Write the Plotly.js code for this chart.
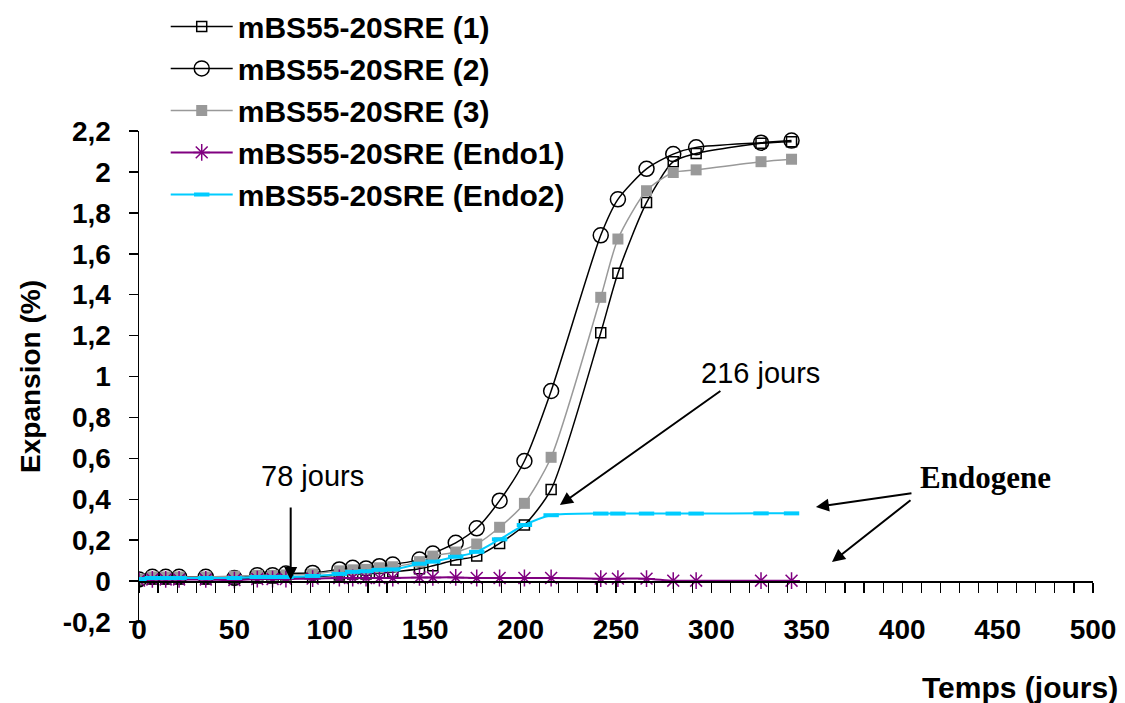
<!DOCTYPE html>
<html>
<head>
<meta charset="utf-8">
<script src="https://cdn.plot.ly/plotly-3.0.1.min.js"></script>
<style>html,body{margin:0;padding:0;background:#fff;}#chart{width:1125px;height:703px;}</style>
</head>
<body>
<div id="chart"></div>
<script>
// Days of measurement
const days = [0,7,14,21,35,50,62,70,77,91,105,112,119,126,133,147,154,166,177,189,202,216,242,251,266,280,292,326,342];
// Expansion (%) per series
const serie1 = [0.005,0.01,0.01,0.01,0.01,0.01,0.015,0.015,0.02,0.02,0.03,0.035,0.035,0.04,0.045,0.06,0.075,0.103,0.122,0.184,0.274,0.448,1.214,1.505,1.85,2.05,2.09,2.14,2.148];
const serie2 = [0.008,0.021,0.021,0.021,0.021,0.015,0.029,0.029,0.037,0.04,0.057,0.065,0.062,0.073,0.081,0.105,0.135,0.187,0.258,0.393,0.587,0.929,1.69,1.866,2.015,2.087,2.12,2.143,2.153];
const serie3 = [0.01,0.02,0.02,0.02,0.02,0.024,0.028,0.028,0.03,0.035,0.05,0.055,0.057,0.065,0.07,0.095,0.122,0.142,0.181,0.263,0.38,0.605,1.387,1.672,1.908,1.997,2.01,2.05,2.062];
const endo1 = [0.003,0.008,0.008,0.008,0.008,0.005,0.01,0.01,0.01,0.012,0.015,0.015,0.015,0.015,0.015,0.018,0.018,0.018,0.015,0.015,0.015,0.015,0.012,0.012,0.012,0.002,0.002,0.002,0.002];
const endo2 = [0.01,0.015,0.015,0.015,0.015,0.015,0.02,0.02,0.02,0.025,0.035,0.045,0.048,0.055,0.057,0.085,0.095,0.119,0.143,0.204,0.274,0.322,0.33,0.33,0.33,0.33,0.33,0.331,0.331];
const seriesNames = ['mBS55-20SRE (1)','mBS55-20SRE (2)','mBS55-20SRE (3)','mBS55-20SRE (Endo1)','mBS55-20SRE (Endo2)'];

// Tick labels
const xTickVals = [0,50,100,150,200,250,300,350,400,450,500];
const xTickText = ['0','50','100','150','200','250','300','350','400','450','500'];
const yTickVals = [-0.2,0,0.2,0.4,0.6,0.8,1,1.2,1.4,1.6,1.8,2,2.2];
const yTickText = ['-0,2','0','0,2','0,4','0,6','0,8','1','1,2','1,4','1,6','1,8','2','2,2'];

const FONT = 'Liberation Sans, Arial, sans-serif';
const sp = {shape:'spline', smoothing:0.7};

const traces = [
  {x:days, y:serie1, name:seriesNames[0], mode:'lines+markers',
   line:Object.assign({color:'#000000', width:1.5}, sp),
   marker:{symbol:'square-open', size:10, color:'#000000', line:{width:1.5, color:'#000000'}}},
  {x:days, y:serie2, name:seriesNames[1], mode:'lines+markers',
   line:Object.assign({color:'#000000', width:1.5}, sp),
   marker:{symbol:'circle-open', size:15, color:'#000000', line:{width:1.5, color:'#000000'}}},
  {x:days, y:serie3, name:seriesNames[2], mode:'lines+markers',
   line:Object.assign({color:'#999999', width:1.5}, sp),
   marker:{symbol:'square', size:11, color:'#999999'}},
  {x:days, y:endo1, name:seriesNames[3], mode:'lines+markers',
   line:Object.assign({color:'#800080', width:2}, sp),
   marker:{symbol:'asterisk-open', size:14, color:'#800080', line:{width:1.5, color:'#800080'}}},
  {x:days, y:endo2, name:seriesNames[4], mode:'lines+markers',
   line:Object.assign({color:'#00CCFF', width:2}, sp),
   marker:{symbol:'line-ew-open', size:11, color:'#00CCFF', line:{width:4, color:'#00CCFF'}}},
  {x:[], y:[], xaxis:'x2', yaxis:'y2', showlegend:false, hoverinfo:'skip', mode:'markers'}
];

const layout = {
  width:1125, height:703,
  margin:{l:139, r:32, t:131, b:81, autoexpand:false},
  paper_bgcolor:'#ffffff', plot_bgcolor:'rgba(0,0,0,0)',
  font:{family:FONT, color:'#000000'},
  showlegend:true,
  legend:{x:0.028, y:1.266, xanchor:'left', yanchor:'top', bgcolor:'rgba(0,0,0,0)',
          font:{family:FONT, size:30, weight:'bold', color:'#000000'}, itemwidth:62, tracegroupgap:0},
  xaxis:{range:[0,500], domain:[0,1], anchor:'free', position:0.025, showline:false, ticks:'',
         tickvals:xTickVals, ticktext:xTickText, showgrid:false, zeroline:false,
         tickfont:{family:FONT, size:28, weight:'bold'}},
  yaxis:{range:[-0.2,2.2], domain:[0,1], showline:true, linecolor:'#000000', linewidth:1.5,
         ticks:'outside', ticklen:9, tickwidth:1.5, tickcolor:'#000000',
         tickvals:yTickVals, ticktext:yTickText, showgrid:false, zeroline:false,
         ticklabelstandoff:12,
         tickfont:{family:FONT, size:28, weight:'bold'},
         title:{text:'Expansion (%)', font:{family:FONT, size:28, weight:'bold'}, standoff:14}},
  xaxis2:{range:[0,500], domain:[0,1], anchor:'y2', showline:true, linecolor:'#000000', linewidth:1.5,
          ticks:'outside', ticklen:10, tickwidth:1.2, tickcolor:'#000000', tick0:0, dtick:10,
          showticklabels:false, showgrid:false, zeroline:false},
  yaxis2:{range:[0,2.2], domain:[0.2/2.4,1], anchor:'x2', visible:false},
  annotations:[
    {xref:'paper', yref:'paper', x:1.028, y:-0.134, xanchor:'right', yanchor:'middle', showarrow:false,
     text:'Temps (jours)', font:{family:FONT, size:30, weight:'bold'}},
    {xref:'x', yref:'y', x:79.5, y:0.005, text:'', showarrow:true, ax:0, ay:-74,
     arrowhead:2, arrowsize:1.3, arrowwidth:2, arrowcolor:'#000000'},
    {xref:'x', yref:'y', x:91, y:0.515, text:'78 jours', showarrow:false,
     font:{family:FONT, size:29, color:'#000000'}},
    {xref:'x', yref:'y', x:220.6, y:0.372, text:'', showarrow:true, ax:162, ay:-115,
     arrowhead:2, arrowsize:1.3, arrowwidth:2, arrowcolor:'#000000'},
    {xref:'x', yref:'y', x:325.5, y:1.015, text:'216 jours', showarrow:false,
     font:{family:FONT, size:29, color:'#000000'}},
    {xref:'x', yref:'y', x:443.7, y:0.505, text:'Endogene', showarrow:false,
     font:{family:'Liberation Serif, Times New Roman, serif', size:31, weight:'bold', color:'#000000'}},
    {xref:'x', yref:'y', x:354.8, y:0.362, text:'', showarrow:true, ax:97, ay:-14,
     arrowhead:2, arrowsize:1.3, arrowwidth:2, arrowcolor:'#000000'},
    {xref:'x', yref:'y', x:363.2, y:0.093, text:'', showarrow:true, ax:80, ay:-63,
     arrowhead:2, arrowsize:1.3, arrowwidth:2, arrowcolor:'#000000'}
  ]
};

Plotly.newPlot('chart', traces, layout, {displayModeBar:false, staticPlot:true});
</script>
</body>
</html>
